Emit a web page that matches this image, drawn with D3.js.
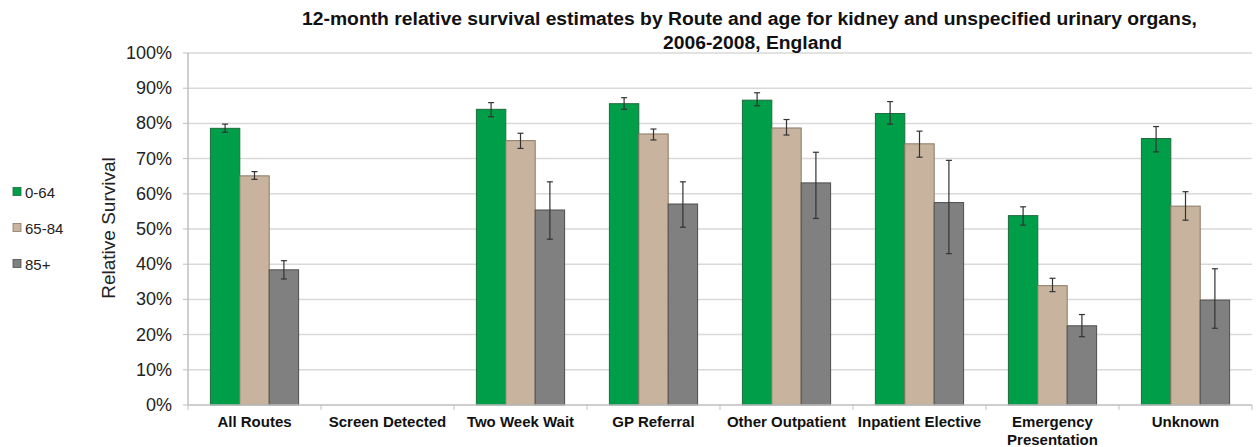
<!DOCTYPE html>
<html><head><meta charset="utf-8">
<script src="https://cdn.jsdelivr.net/npm/d3@7"></script>
<style>body{margin:0;background:#fff;font-family:"Liberation Sans",Arial,sans-serif;}</style>
</head><body><svg id="c" width="1256" height="447"></svg>
<script>
const categories = ["All Routes","Screen Detected","Two Week Wait","GP Referral","Other Outpatient","Inpatient Elective","Emergency Presentation","Unknown"];
const series = ["0-64","65-84","85+"];
const colors = ["#009e49","#c8b49e","#808080"];
const strokes = ["#1f6b3a","#8a7866","#4d4d4d"];
const v064 = [78.6, null, 84.0, 85.6, 86.6, 82.8, 53.8, 75.7];
const lo064 = [77.5, null, 81.9, 84.0, 85.0, 79.8, 51.1, 71.9];
const hi064 = [79.8, null, 85.9, 87.3, 88.7, 86.2, 56.3, 79.1];
const v6584 = [65.1, null, 75.1, 77.0, 78.7, 74.2, 33.9, 56.5];
const lo6584 = [64.1, null, 72.9, 75.3, 76.7, 70.4, 32.2, 52.5];
const hi6584 = [66.3, null, 77.2, 78.4, 81.1, 77.8, 36.0, 60.6];
const v85 = [38.4, null, 55.4, 57.1, 63.1, 57.5, 22.5, 29.8];
const lo85 = [35.8, null, 47.1, 50.5, 53.0, 43.0, 19.4, 21.8];
const hi85 = [41.0, null, 63.4, 63.4, 71.8, 69.5, 25.7, 38.7];
const yTicks = [0,10,20,30,40,50,60,70,80,90,100];
const title1 = "12-month relative survival estimates by Route and age for kidney and unspecified urinary organs,";
const title2 = "2006-2008, England";

const vals = [v064, v6584, v85], los=[lo064, lo6584, lo85], his=[hi064, hi6584, hi85];
const svg = d3.select("#c");
const L=188, R=1252, T=53, B=405;
const x = d3.scaleBand().domain(categories).range([L,R]).paddingInner(0).paddingOuter(0);
const y = d3.scaleLinear().domain([0,100]).range([B,T]);

// gridlines
svg.append("g").selectAll("line").data(yTicks.filter(d=>d>0)).join("line")
  .attr("x1",L).attr("x2",R).attr("y1",d=>y(d)).attr("y2",d=>y(d))
  .attr("stroke","#d9d9d9").attr("stroke-width",1.5);

// y labels
svg.append("g").selectAll("text").data(yTicks).join("text")
  .attr("x",172).attr("y",d=>y(d)+6).attr("text-anchor","end")
  .attr("font-size",18).attr("fill","#222").text(d=>d+"%");
// y tick marks
svg.append("g").selectAll("line").data(yTicks).join("line")
  .attr("x1",L-5).attr("x2",L).attr("y1",d=>y(d)).attr("y2",d=>y(d))
  .attr("stroke","#bfbfbf").attr("stroke-width",1);
// y axis line
svg.append("line").attr("x1",L).attr("x2",L).attr("y1",T).attr("y2",B).attr("stroke","#bfbfbf").attr("stroke-width",1.5);

// bars
const bw = 29.4;
categories.forEach((c,i)=>{
  const cx = x(c)+x.bandwidth()/2;
  series.forEach((s,j)=>{
    const v = vals[j][i];
    if(v==null) return;
    const bx = cx - 1.5*bw + j*bw;
    svg.append("rect").attr("x",bx).attr("y",y(v)).attr("width",bw).attr("height",y(0)-y(v))
      .attr("fill",colors[j]).attr("stroke",strokes[j]).attr("stroke-width",1);
    const ex = bx + bw/2;
    const eg = svg.append("g").attr("stroke","#333").attr("stroke-width",1.2);
    eg.append("line").attr("x1",ex).attr("x2",ex).attr("y1",y(his[j][i])).attr("y2",y(los[j][i]));
    eg.append("line").attr("x1",ex-3).attr("x2",ex+3).attr("y1",y(his[j][i])).attr("y2",y(his[j][i]));
    eg.append("line").attr("x1",ex-3).attr("x2",ex+3).attr("y1",y(los[j][i])).attr("y2",y(los[j][i]));
  });
});

// x axis
svg.append("line").attr("x1",L).attr("x2",R).attr("y1",B).attr("y2",B).attr("stroke","#bfbfbf").attr("stroke-width",1.5);
const bounds = categories.map(c=>x(c)).concat([R]);
svg.append("g").selectAll("line").data(bounds).join("line")
  .attr("x1",d=>d).attr("x2",d=>d).attr("y1",B).attr("y2",B+5).attr("stroke","#bfbfbf").attr("stroke-width",1);

// x labels
categories.forEach(c=>{
  const cx = x(c)+x.bandwidth()/2;
  const lines = c==="Emergency Presentation" ? ["Emergency","Presentation"] : [c];
  lines.forEach((t,k)=>{
    svg.append("text").attr("x",cx).attr("y",427+k*18).attr("text-anchor","middle")
      .attr("font-size",15).attr("font-weight","bold").attr("fill","#111").text(t);
  });
});

// y title
svg.append("text").attr("transform","translate(115,228) rotate(-90)").attr("text-anchor","middle")
  .attr("font-size",19).attr("fill","#222").text("Relative Survival");

// title
svg.append("text").attr("x",302).attr("y",25).attr("font-size",18).attr("font-weight","bold").attr("fill","#111")
  .attr("textLength",895).attr("lengthAdjust","spacingAndGlyphs").text(title1);
svg.append("text").attr("x",663).attr("y",49).attr("font-size",18).attr("font-weight","bold").attr("fill","#111")
  .attr("textLength",179).attr("lengthAdjust","spacingAndGlyphs").text(title2);

// legend
series.forEach((s,j)=>{
  const ly = 192 + j*36;
  svg.append("rect").attr("x",13).attr("y",ly-4.5).attr("width",8).attr("height",8)
    .attr("fill",colors[j]).attr("stroke",strokes[j]).attr("stroke-width",0.8);
  svg.append("text").attr("x",25).attr("y",ly+5.5).attr("font-size",15).attr("fill","#222").text(s);
});
</script></body></html>
